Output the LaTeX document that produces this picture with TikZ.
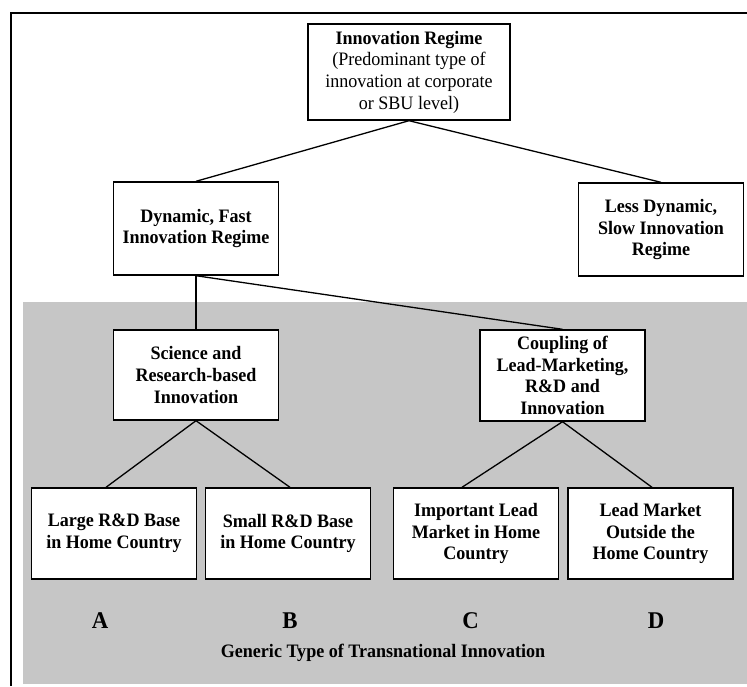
\documentclass[tikz,border=0pt]{standalone}
\usepackage{fontspec}
\setmainfont{Liberation Serif}[FakeStretch=0.95]
\definecolor{graybg}{RGB}{198,198,198}
\begin{document}
\begin{tikzpicture}[x=1pt,y=-1pt,
  box/.style={draw=black, fill=white, line width=1.4pt, align=center,
    font=\bfseries\fontsize{19}{21.7}\selectfont, inner sep=0pt,
    minimum width=165pt, minimum height=91pt},
  link/.style={draw=black, line width=1.3pt},
  letter/.style={font=\bfseries\fontsize{24}{26}\selectfont, anchor=base},
]
\useasboundingbox (0,0) rectangle (747,686);
\fill[graybg] (23,302) rectangle (747,684);
\draw[line width=2.4pt] (11,686) -- (11,13) -- (747,13);

\node[box, minimum width=202pt, minimum height=96pt,
  font=\fontsize{19}{21.7}\selectfont] (top) at (409,72)
  {\textbf{Innovation Regime}\\(Predominant type of\\innovation at corporate\\or SBU level)};
\node[box, minimum height=93pt] (dyn) at (196,228.5) {Dynamic, Fast\\Innovation Regime};
\node[box, minimum height=93pt] (less) at (661,229.5) {Less Dynamic,\\Slow Innovation\\Regime};
\node[box, minimum height=90pt] (sci) at (196,375) {Science and\\Research-based\\Innovation};
\node[box] (coup) at (562.5,375.5) {Coupling of\\Lead-Marketing,\\R\&D and\\Innovation};
\node[box] (large) at (114,533.5) {Large R\&D Base\\in Home Country};
\node[box] (small) at (288,533.5) {Small R\&D Base\\in Home Country};
\node[box] (imp) at (476,533.5) {Important Lead\\Market in Home\\Country};
\node[box] (out) at (650.5,533.5) {Lead Market\\Outside the\\Home Country};

\draw[link] (top.south) -- (dyn.north);
\draw[link] (top.south) -- (less.north);
\draw[link] (dyn.south) -- (sci.north);
\draw[link] (dyn.south) -- (coup.north);
\draw[link] (sci.south) -- ([xshift=-8pt]large.north);
\draw[link] (sci.south) -- ([xshift=2pt]small.north);
\draw[link] (coup.south) -- ([xshift=-14pt]imp.north);
\draw[link] (coup.south) -- ([xshift=1.5pt]out.north);

\node[letter] (la) at (100,628) {A};
\node[letter] (lb) at (290,628) {B};
\node[letter] (lc) at (470.5,628) {C};
\node[letter] (ld) at (656,628) {D};
\node[font=\bfseries\fontsize{19}{21}\selectfont, anchor=base] (cap) at (383,657)
  {Generic Type of Transnational Innovation};
\end{tikzpicture}
\end{document}
